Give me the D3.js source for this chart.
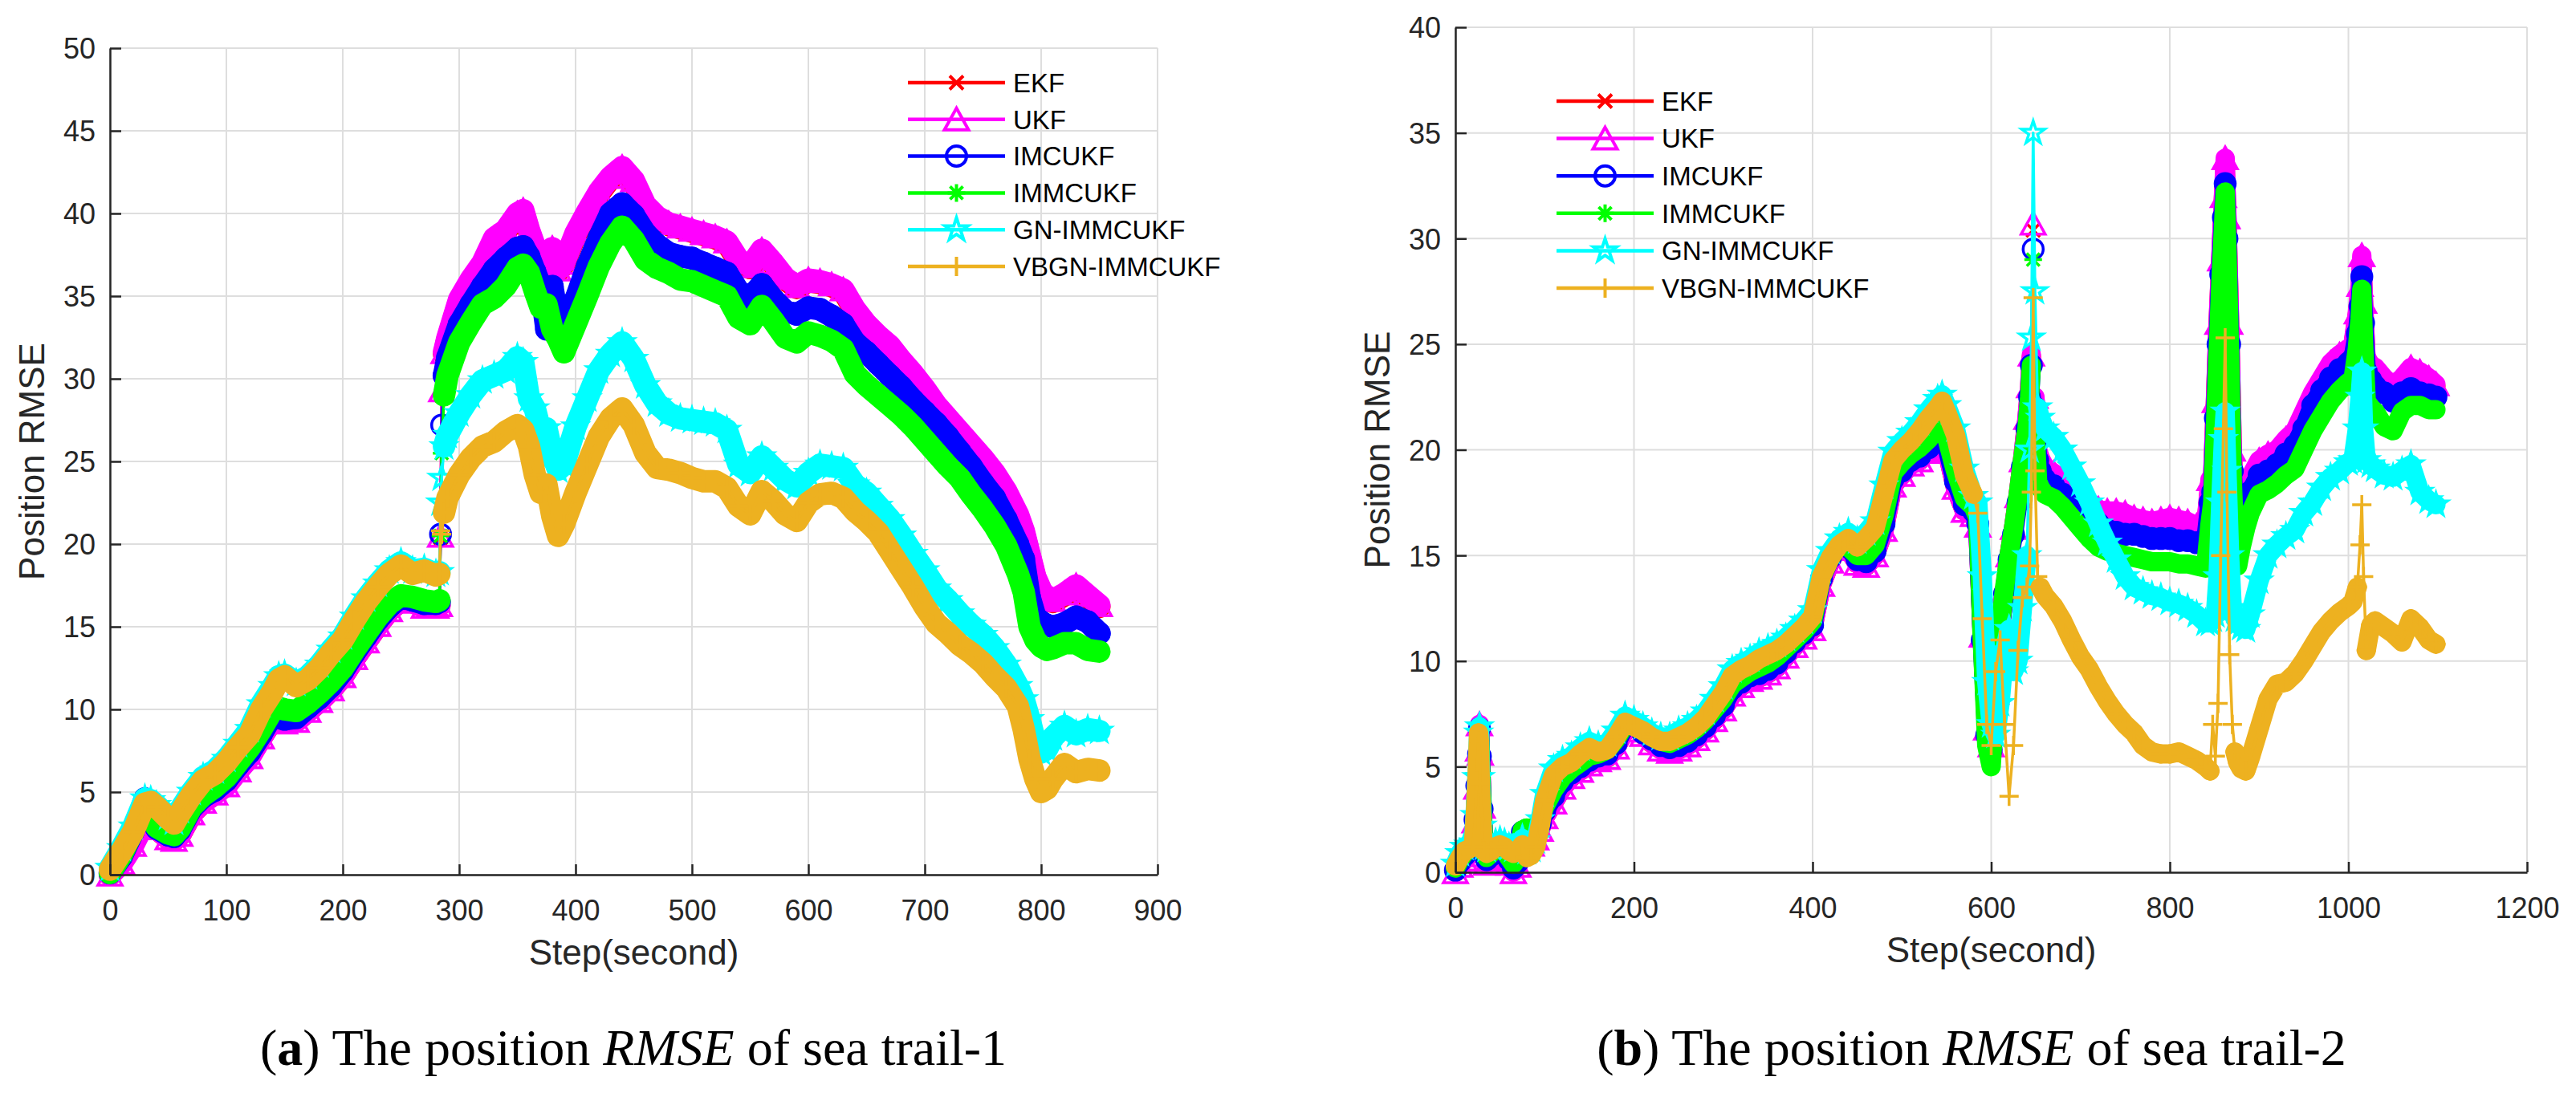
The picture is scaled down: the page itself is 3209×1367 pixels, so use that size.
<!DOCTYPE html>
<html>
<head>
<meta charset="utf-8">
<script src="https://cdn.jsdelivr.net/npm/d3@7"></script>
<style>
html,body{margin:0;padding:0;background:#fff;}
svg{display:block;}
</style>
</head>
<body>
<svg id="chart" width="3209" height="1367"></svg>
<script>
// ---------------- DATA ----------------
const seriesNames = ["EKF", "UKF", "IMCUKF", "IMMCUKF", "GN-IMMCUKF", "VBGN-IMMCUKF"];

const xTicksA = [0, 100, 200, 300, 400, 500, 600, 700, 800, 900];
const yTicksA = [0, 5, 10, 15, 20, 25, 30, 35, 40, 45, 50];
const xTicksB = [0, 200, 400, 600, 800, 1000, 1200];
const yTicksB = [0, 5, 10, 15, 20, 25, 30, 35, 40];

// Sea trail-1
const stepsA = [
  0,10,20,30,35,40,50,55,60,70,
  80,90,100,110,120,130,140,145,150,160,
  170,180,190,200,210,220,230,240,250,260,
  270,280,283,284,285,287,290,300,310,320,
  330,340,350,355,360,365,370,375,380,385,
  390,400,410,420,430,440,450,460,470,480,
  490,500,510,520,530,540,550,560,570,580,
  590,600,610,620,630,640,650,660,670,680,
  690,700,710,720,730,740,750,760,770,780,
  785,790,795,800,805,810,820,830,840,850];

const ekfA = [
  0.0,0.8,1.9,3.3,3.3,2.8,2.2,2.1,2.4,3.7,
  4.4,4.9,5.5,6.3,7.2,8.3,9.4,9.3,9.2,9.3,
  9.9,10.5,11.2,12.0,13.1,14.1,15.1,16.0,16.6,16.5,
  16.2,16.2,16.3,20.4,29.0,31.5,32.4,34.7,35.9,36.9,
  38.4,38.9,39.9,40.1,38.9,37.9,37.1,36.7,37.8,36.5,
  36.9,38.7,40.0,41.2,42.1,42.7,41.9,40.4,39.7,39.3,
  39.1,38.9,38.7,38.5,38.2,37.1,36.7,37.7,36.9,36.0,
  35.5,35.9,35.8,35.6,35.3,34.1,33.2,32.5,31.9,31.0,
  30.2,29.3,28.3,27.5,26.7,25.9,25.1,24.2,23.1,21.7,
  20.7,19.3,17.9,17.1,16.6,16.5,16.9,17.4,16.8,16.2];

const ukfA = [
  0.0,0.7,1.8,3.2,3.3,2.8,2.2,2.1,2.4,3.7,
  4.4,4.9,5.4,6.3,7.1,8.3,9.4,9.3,9.2,9.3,
  9.9,10.5,11.2,12.0,13.1,14.1,15.1,16.0,16.6,16.5,
  16.2,16.2,16.3,20.5,29.3,31.6,32.5,34.8,36.0,37.0,
  38.5,39.0,40.0,40.2,39.0,38.0,37.2,36.8,37.9,36.6,
  37.0,38.8,40.1,41.3,42.2,42.8,42.0,40.5,39.8,39.4,
  39.2,39.0,38.8,38.6,38.3,37.2,36.8,37.8,37.0,36.1,
  35.6,36.0,35.9,35.7,35.4,34.2,33.3,32.6,32.0,31.1,
  30.3,29.4,28.4,27.6,26.8,26.0,25.2,24.3,23.2,21.8,
  20.8,19.4,18.0,17.2,16.7,16.6,17.0,17.5,16.9,16.3];

const imcukfA = [
  0.1,1.1,2.6,4.6,3.4,2.8,2.4,2.3,2.7,4.0,
  4.7,5.1,5.7,6.6,7.4,8.5,9.7,9.5,9.4,9.5,
  10.1,10.7,11.4,12.3,13.4,14.4,15.4,16.2,16.8,16.6,
  16.4,16.4,16.5,20.6,27.2,30.2,31.3,33.3,34.5,35.6,
  36.6,37.3,37.9,38.0,37.4,36.5,35.6,33.0,35.6,33.5,
  32.8,34.8,36.8,38.5,40.0,40.6,39.9,38.8,38.1,37.6,
  37.4,37.3,37.0,36.7,36.4,35.3,34.9,35.7,34.8,34.1,
  33.9,34.3,34.2,33.8,33.3,32.2,31.6,30.9,30.2,29.5,
  28.7,28.0,27.3,26.5,25.6,24.7,23.7,22.8,21.5,20.0,
  19.1,16.8,15.6,15.3,15.1,15.0,15.2,15.6,15.3,14.6];

const immcukfA = [
  0.1,1.2,2.7,4.4,3.5,2.9,2.5,2.4,2.8,4.1,
  4.8,5.3,5.9,6.8,7.7,8.8,10.0,10.1,10.0,9.9,
  10.4,11.0,11.7,12.5,13.6,14.6,15.6,16.4,16.9,16.8,
  16.6,16.5,16.6,20.5,25.5,29.0,30.2,32.2,33.4,34.5,
  34.9,35.6,36.7,36.9,36.4,35.3,34.3,34.5,33.0,32.4,
  31.6,33.3,35.0,36.8,38.2,39.2,38.4,37.2,36.7,36.4,
  36.0,35.9,35.6,35.3,35.0,33.7,33.3,34.4,33.5,32.5,
  32.2,32.8,32.6,32.3,31.8,30.3,29.6,29.0,28.4,27.8,
  27.1,26.3,25.5,24.7,24.0,23.0,22.1,21.1,19.9,18.2,
  17.1,15.0,14.2,13.8,13.6,13.7,14.0,14.0,13.6,13.5];

const gnA = [
  0.4,1.6,2.9,4.6,4.5,4.2,3.5,3.2,3.9,5.0,
  5.9,6.3,7.0,7.9,8.8,10.3,11.4,12.0,12.1,11.6,
  12.0,12.7,13.6,14.4,15.6,16.7,17.6,18.4,18.9,18.4,
  18.5,18.2,18.3,22.5,24.0,25.9,26.6,27.9,29.0,29.9,
  30.2,30.5,31.3,31.0,28.8,28.2,26.8,27.0,25.4,24.5,
  24.8,27.1,28.8,30.5,31.5,32.2,31.2,29.6,28.5,27.9,
  27.6,27.5,27.4,27.3,26.9,24.8,24.3,25.3,24.6,23.9,
  23.5,24.3,24.8,24.7,24.6,23.6,23.1,22.3,21.5,20.5,
  19.4,18.4,17.3,16.6,15.8,15.1,14.5,13.7,12.7,11.4,
  10.6,9.4,8.0,7.4,7.6,8.3,9.0,8.5,8.8,8.7];

const vbgnA = [
  0.3,1.4,2.6,4.3,4.4,4.1,3.4,3.1,3.7,4.8,
  5.7,6.1,6.8,7.7,8.5,10.0,11.1,11.8,12.0,11.4,
  11.8,12.5,13.4,14.2,15.4,16.5,17.4,18.2,18.7,18.2,
  18.4,18.1,18.2,20.8,20.6,21.9,22.8,24.2,25.2,25.9,
  26.2,26.8,27.2,26.9,25.9,24.2,23.1,23.6,21.7,20.5,
  21.2,23.1,24.8,26.5,27.6,28.2,27.2,25.5,24.6,24.5,
  24.3,24.0,23.8,23.8,23.4,22.3,21.8,23.2,22.6,21.8,
  21.4,22.5,23.0,23.1,22.8,22.0,21.4,20.7,19.6,18.5,
  17.4,16.2,15.2,14.6,13.9,13.4,12.8,12.0,11.3,10.2,
  8.8,7.0,5.8,5.0,5.2,5.8,6.7,6.2,6.4,6.3];

// Sea trail-2
const stepsB = [
  0,5,10,15,20,22,24,26,27,28,
  30,32,35,40,45,50,55,60,65,70,
  75,80,85,90,95,100,110,120,130,140,
  150,160,170,180,190,200,210,220,230,240,
  250,260,270,280,290,300,310,320,330,340,
  350,360,370,380,390,400,410,420,430,440,
  450,460,470,480,490,500,510,520,530,540,
  545,550,560,570,580,585,590,595,600,605,
  610,615,620,625,630,635,640,643,645,647,
  649,652,655,660,670,680,690,700,710,720,
  730,740,750,760,770,780,790,800,810,820,
  830,840,845,848,851,854,857,860,862,864,
  867,870,873,876,880,885,890,900,910,920,
  930,940,950,960,970,980,990,1000,1005,1010,
  1013,1015,1017,1020,1025,1030,1040,1050,1060,1070,
  1080,1090,1098];

const ekfB = [
  0.0,0.3,0.6,0.8,1.0,2.3,4.0,5.7,6.9,5.5,
  3.0,1.1,0.4,0.6,0.8,0.8,0.7,0.4,0.1,0.3,
  1.6,1.8,1.3,1.6,2.0,2.6,3.3,4.0,4.5,4.8,
  5.1,5.3,5.4,5.9,6.7,6.9,6.5,6.1,5.8,5.7,
  5.8,6.0,6.3,6.7,7.2,7.7,8.4,8.8,9.1,9.2,
  9.4,9.7,10.2,10.7,11.1,11.5,13.6,14.7,15.5,15.3,
  14.6,14.5,15.0,16.2,18.3,18.8,19.3,19.5,19.9,20.5,
  20.7,20.0,18.2,17.1,16.9,16.4,11.2,6.8,6.0,8.5,
  11.5,13.3,15.0,16.3,17.8,19.5,21.4,22.9,24.4,30.4,
  22.4,19.9,19.5,19.1,18.8,18.3,17.9,17.7,17.4,17.1,
  17.0,17.0,16.9,16.7,16.6,16.5,16.6,16.7,16.6,16.5,
  16.3,16.2,18.5,18.7,22.2,25.9,28.9,31.9,33.4,30.9,
  25.9,19.9,16.9,16.3,17.1,17.9,18.6,19.4,19.7,19.9,
  20.4,20.8,21.7,22.6,23.3,24.0,24.4,24.7,24.9,26.4,
  27.6,28.9,26.9,24.0,23.9,23.8,23.3,22.9,23.3,23.8,
  23.6,23.3,23.0];

const ukfB = [
  0.0,0.3,0.6,0.8,1.0,2.4,4.0,5.8,7.0,5.6,
  3.1,1.1,0.4,0.6,0.8,0.8,0.7,0.4,0.0,0.3,
  1.6,1.8,1.3,1.6,2.0,2.6,3.3,4.0,4.5,4.8,
  5.1,5.3,5.4,5.9,6.7,6.9,6.5,6.1,5.8,5.7,
  5.8,6.0,6.3,6.7,7.2,7.7,8.4,8.8,9.1,9.2,
  9.4,9.7,10.2,10.7,11.1,11.5,13.6,14.7,15.5,15.3,
  14.6,14.5,15.0,16.2,18.3,18.8,19.3,19.5,19.9,20.5,
  20.7,20.0,18.2,17.1,16.9,16.4,11.2,6.8,6.0,8.5,
  11.5,13.3,15.0,16.3,17.8,19.5,21.5,23.0,24.5,30.7,
  22.5,20.0,19.6,19.2,18.9,18.4,18.0,17.8,17.5,17.2,
  17.1,17.1,17.0,16.8,16.7,16.6,16.7,16.8,16.7,16.6,
  16.4,16.3,18.6,18.8,22.3,26.0,29.0,32.0,33.8,31.0,
  26.0,20.0,17.0,16.4,17.2,18.0,18.7,19.5,19.8,20.0,
  20.5,20.9,21.8,22.7,23.4,24.1,24.5,24.8,25.0,26.5,
  27.8,29.2,27.0,24.1,24.0,23.9,23.4,23.0,23.4,23.9,
  23.7,23.4,23.1];

const imcukfB = [
  0.1,0.5,0.8,1.0,1.2,2.5,4.1,5.6,6.8,5.5,
  3.0,1.2,0.6,0.8,1.0,1.0,0.9,0.6,0.2,0.5,
  1.9,2.0,1.5,1.8,2.3,2.9,3.6,4.3,4.7,5.0,
  5.3,5.5,5.6,6.1,6.9,7.0,6.6,6.3,6.0,5.9,
  6.0,6.2,6.5,6.9,7.4,7.9,8.7,9.0,9.3,9.4,
  9.6,9.9,10.4,10.9,11.3,11.7,13.9,14.9,15.6,15.4,
  14.8,14.7,15.2,16.5,18.6,19.0,19.5,19.7,20.1,20.7,
  20.9,20.2,18.5,17.4,17.1,16.5,11.0,6.5,5.8,8.5,
  11.5,13.2,14.8,16.0,17.5,19.2,21.0,22.5,24.0,29.5,
  22.0,19.5,19.0,18.6,18.3,17.9,17.6,17.4,17.0,16.5,
  16.2,16.1,16.0,16.0,15.9,15.8,15.8,15.8,15.7,15.7,
  15.6,15.6,17.5,18.0,21.5,25.0,28.3,31.0,32.6,30.0,
  25.0,19.0,16.5,15.8,16.5,17.3,18.0,18.8,19.0,19.3,
  19.8,20.2,21.0,22.1,22.8,23.4,23.8,24.1,24.3,25.5,
  26.8,28.2,26.0,23.7,23.3,23.0,22.7,22.3,22.7,22.9,
  22.7,22.6,22.5];

const immcukfB = [
  0.2,0.6,0.9,1.1,1.3,2.4,4.0,5.5,6.7,5.4,
  2.9,1.3,0.7,0.9,1.1,1.1,1.0,0.7,0.4,0.7,
  2.0,2.1,1.7,2.0,2.5,3.1,3.9,4.5,4.9,5.2,
  5.5,5.6,5.8,6.3,7.0,7.0,6.7,6.4,6.2,6.1,
  6.3,6.5,6.8,7.2,7.7,8.2,8.9,9.2,9.5,9.7,
  9.9,10.2,10.6,11.0,11.4,11.9,14.0,14.9,15.5,15.4,
  15.0,15.0,15.5,16.9,18.9,19.4,19.8,20.1,20.5,21.1,
  21.3,20.6,19.0,17.7,17.3,16.8,11.0,6.0,5.0,8.5,
  11.5,13.5,15.0,16.3,17.8,19.5,21.0,22.5,24.0,29.0,
  21.0,18.5,18.2,17.9,17.7,17.3,16.8,16.3,15.8,15.4,
  15.2,15.1,15.0,14.9,14.8,14.7,14.7,14.7,14.6,14.6,
  14.5,14.4,16.5,17.5,21.0,24.5,27.8,30.5,32.2,29.5,
  24.5,18.5,15.5,14.5,15.4,16.3,17.0,17.9,18.1,18.4,
  18.8,19.1,20.0,20.9,21.6,22.3,22.8,23.2,23.3,24.8,
  26.2,27.6,25.0,22.3,22.0,21.8,21.1,20.9,21.8,22.1,
  22.1,21.9,21.9];

const gnB = [
  0.4,0.9,1.2,1.3,1.4,2.7,4.5,6.6,6.9,4.5,
  2.2,1.2,1.1,1.2,1.4,1.5,1.4,1.2,1.1,1.2,
  1.6,1.0,1.1,1.5,2.5,3.7,4.9,5.3,5.5,5.9,
  6.2,6.0,6.1,6.7,7.4,7.2,6.9,6.6,6.4,6.4,
  6.7,6.9,7.2,7.6,8.2,8.8,9.6,9.9,10.1,10.4,
  10.6,10.8,11.1,11.5,11.9,12.4,14.3,15.2,15.8,16.1,
  15.7,16.1,16.6,18.3,19.9,20.4,20.8,21.3,21.9,22.4,
  22.6,22.1,21.0,19.1,17.8,17.5,14.0,9.0,7.0,6.5,
  8.0,10.5,11.5,9.5,10.0,12.5,15.0,20.0,25.3,35.0,
  27.5,22.0,21.5,21.0,20.6,20.0,19.2,18.4,17.5,16.5,
  15.6,14.8,14.0,13.5,13.3,13.1,13.0,12.8,12.7,12.5,
  12.2,11.8,11.8,12.0,12.2,14.0,17.5,20.5,21.8,19.0,
  15.0,12.5,12.0,11.8,11.6,11.5,12.2,13.8,15.0,15.5,
  15.9,16.2,17.0,17.5,18.2,18.7,19.0,19.4,19.5,21.0,
  22.5,23.7,21.0,19.5,19.3,19.1,18.8,18.7,19.0,19.3,
  18.0,17.6,17.4];

const vbgnB = [
  0.3,0.7,1.0,1.1,1.2,2.5,4.3,6.6,6.2,4.2,
  2.0,1.0,0.9,1.0,1.2,1.3,1.2,1.0,0.9,1.0,
  1.3,0.7,0.8,1.2,2.2,3.4,4.6,5.0,5.2,5.6,
  5.9,5.7,5.8,6.4,7.1,6.9,6.7,6.4,6.2,6.2,
  6.4,6.6,6.9,7.3,7.9,8.5,9.3,9.6,9.8,10.1,
  10.3,10.5,10.8,11.2,11.6,12.1,14.0,14.9,15.5,15.8,
  15.4,15.8,16.3,17.9,19.5,20.0,20.4,20.9,21.5,22.0,
  22.3,21.8,20.7,18.8,17.9,17.0,12.0,7.0,6.0,9.5,
  11.0,7.0,3.6,6.0,10.5,13.0,13.5,14.5,18.0,27.2,
  19.0,14.0,13.5,13.1,12.6,11.9,11.0,10.2,9.6,8.8,
  8.1,7.5,7.0,6.6,6.0,5.7,5.6,5.6,5.7,5.5,
  5.3,5.0,4.8,7.0,5.5,8.0,15.0,21.0,25.3,18.0,
  10.3,7.0,5.7,5.2,4.9,4.8,5.4,6.8,8.2,8.9,
  9.0,9.4,10.0,10.7,11.4,11.9,12.3,12.6,12.8,13.5,
  15.5,17.4,14.0,10.5,11.7,11.9,11.6,11.3,10.9,12.0,
  11.6,11.0,10.8];

// Step ranges where a trace jumps quickly (sparse markers, thin line only), per series
const fastA = [[[283.5, 286]], [[283.5, 286]], [[283.5, 286]], [[283.5, 286]], [[283.5, 286]], [[283.5, 286]]];
const fastB = [[[646, 648]], [[646, 648]], [[646, 648]], [[646, 648]], [[642, 650]],
               [[583, 653], [846, 871], [1011, 1019]]];

// ---------------- STYLE ----------------
const colors = ["#FF0000", "#FF00FF", "#0000FF", "#00FF00", "#00FFFF", "#EDB120"];
const markerTypes = ["x", "tri", "circle", "asterisk", "star", "plus"];

function markerPath(type) {
  switch (type) {
    case "x": { const r = 8.5; return `M${-r},${-r}L${r},${r}M${-r},${r}L${r},${-r}`; }
    case "tri": return "M0,-14L15,13L-15,13Z";
    case "circle": { const r = 12.5; return `M${r},0A${r},${r} 0 1,1 ${-r},0A${r},${r} 0 1,1 ${r},0Z`; }
    case "asterisk": { const r = 11, d = 8; return `M0,${-r}V${r}M${-r},0H${r}M${-d},${-d}L${d},${d}M${-d},${d}L${d},${-d}`; }
    case "star": {
      const R = 15, ri = R * 0.382; let p = "";
      for (let i = 0; i < 10; i++) {
        const a = -Math.PI / 2 + i * Math.PI / 5;
        const rr = i % 2 === 0 ? R : ri;
        p += (i === 0 ? "M" : "L") + (rr * Math.cos(a)).toFixed(2) + "," + (rr * Math.sin(a)).toFixed(2);
      }
      return p + "Z";
    }
    case "plus": { const r = 12; return `M${-r},0H${r}M0,${-r}V${r}`; }
  }
}

const svg = d3.select("#chart");
svg.append("rect").attr("width", 3209).attr("height", 1367).attr("fill", "#fff");

const axisColor = "#262626";
const gridColor = "#DEDEDE";
const sansFont = "'Liberation Sans', Arial, Helvetica, sans-serif";
const serifFont = "'Liberation Serif', 'Times New Roman', serif";

function drawChart(cfg) {
  const g = svg.append("g");
  const x = d3.scaleLinear().domain(cfg.xDomain).range([cfg.left, cfg.right]);
  const y = d3.scaleLinear().domain(cfg.yDomain).range([cfg.bottom, cfg.top]);

  // grid
  g.append("g").selectAll("line").data(cfg.xTicks).join("line")
    .attr("x1", d => x(d)).attr("x2", d => x(d))
    .attr("y1", cfg.top).attr("y2", cfg.bottom)
    .attr("stroke", gridColor).attr("stroke-width", 2);
  g.append("g").selectAll("line").data(cfg.yTicks).join("line")
    .attr("x1", cfg.left).attr("x2", cfg.right)
    .attr("y1", d => y(d)).attr("y2", d => y(d))
    .attr("stroke", gridColor).attr("stroke-width", 2);

  // series: dense marker band + line + markers, drawn in legend order
  const line = d3.line().x(d => x(d[0])).y(d => y(d[1]));
  cfg.series.forEach((vals, i) => {
    const pts = cfg.steps.map((s, k) => [s, vals[k]]);
    const fast = cfg.fast[i];
    const isFast = s => fast.some(r => s >= r[0] && s <= r[1]);
    const band = d3.line().defined(d => !isFast(d[0])).x(d => x(d[0])).y(d => y(d[1]));
    const sg = g.append("g");
    sg.append("path").attr("d", band(pts)).attr("fill", "none")
      .attr("stroke", colors[i]).attr("stroke-width", cfg.band)
      .attr("stroke-linejoin", "round").attr("stroke-linecap", "round");
    sg.append("path").attr("d", line(pts)).attr("fill", "none")
      .attr("stroke", colors[i]).attr("stroke-width", 3.5).attr("stroke-linejoin", "round");
    sg.selectAll("path.m").data(pts).join("path")
      .attr("d", markerPath(markerTypes[i]))
      .attr("transform", d => `translate(${x(d[0])},${y(d[1])})`)
      .attr("fill", "none").attr("stroke", colors[i]).attr("stroke-width", 3.5);
  });

  // axes
  const xAxis = d3.axisBottom(x).tickValues(cfg.xTicks).tickSizeInner(-13).tickSizeOuter(0).tickPadding(31).tickFormat(d3.format("d"));
  const yAxis = d3.axisLeft(y).tickValues(cfg.yTicks).tickSizeInner(-14).tickSizeOuter(0).tickPadding(18).tickFormat(d3.format("d"));
  const gx = g.append("g").attr("transform", `translate(0,${cfg.bottom})`).call(xAxis);
  const gy = g.append("g").attr("transform", `translate(${cfg.left},0)`).call(yAxis);
  [gx, gy].forEach(a => {
    a.select(".domain").attr("stroke", axisColor).attr("stroke-width", 2.5);
    a.selectAll(".tick line").attr("stroke", axisColor).attr("stroke-width", 2.5);
    a.selectAll(".tick text").attr("fill", axisColor).style("font-family", sansFont).style("font-size", "36px");
  });
  gy.selectAll(".tick text").attr("dy", "0.36em");

  // axis labels
  g.append("text").attr("x", (cfg.left + cfg.right) / 2).attr("y", cfg.bottom + 112)
    .attr("text-anchor", "middle").attr("fill", axisColor)
    .style("font-family", sansFont).style("font-size", "44px").text("Step(second)");
  g.append("text")
    .attr("transform", `translate(${cfg.left - 82},${(cfg.top + cfg.bottom) / 2}) rotate(-90)`)
    .attr("text-anchor", "middle").attr("fill", axisColor)
    .style("font-family", sansFont).style("font-size", "44px").text("Position RMSE");

  // legend
  const lg = g.append("g");
  seriesNames.forEach((name, i) => {
    const ly = cfg.legendY + i * cfg.legendDy;
    lg.append("line").attr("x1", cfg.legendX).attr("x2", cfg.legendX + 121)
      .attr("y1", ly).attr("y2", ly).attr("stroke", colors[i]).attr("stroke-width", 4.5);
    lg.append("path").attr("d", markerPath(markerTypes[i]))
      .attr("transform", `translate(${cfg.legendX + 60.5},${ly})`)
      .attr("fill", "none").attr("stroke", colors[i]).attr("stroke-width", 4);
    lg.append("text").attr("x", cfg.legendX + 131).attr("y", ly).attr("dy", "0.36em")
      .attr("fill", "#000").style("font-family", sansFont).style("font-size", "33px").text(name);
  });

  // caption
  const cap = g.append("text").attr("x", cfg.capX).attr("y", 1327).attr("text-anchor", "middle")
    .attr("fill", "#000").style("font-family", serifFont).style("font-size", "64px");
  cap.append("tspan").text("(");
  cap.append("tspan").style("font-weight", "bold").text(cfg.capLetter);
  cap.append("tspan").text(") The position ");
  cap.append("tspan").style("font-style", "italic").text("RMSE");
  cap.append("tspan").text(" of sea trail-" + cfg.capNum);
}

drawChart({
  left: 137, right: 1442, top: 60, bottom: 1090,
  xDomain: [0, 900], yDomain: [0, 50], xTicks: xTicksA, yTicks: yTicksA,
  steps: stepsA, series: [ekfA, ukfA, imcukfA, immcukfA, gnA, vbgnA], fast: fastA,
  band: 28,
  legendX: 1131, legendY: 103, legendDy: 45.8,
  capX: 789, capLetter: "a", capNum: "1"
});

drawChart({
  left: 1813, right: 3148, top: 34, bottom: 1087,
  xDomain: [0, 1200], yDomain: [0, 40], xTicks: xTicksB, yTicks: yTicksB,
  steps: stepsB, series: [ekfB, ukfB, imcukfB, immcukfB, gnB, vbgnB], fast: fastB,
  band: 24,
  legendX: 1939, legendY: 126, legendDy: 46.6,
  capX: 2456, capLetter: "b", capNum: "2"
});
</script>
</body>
</html>
